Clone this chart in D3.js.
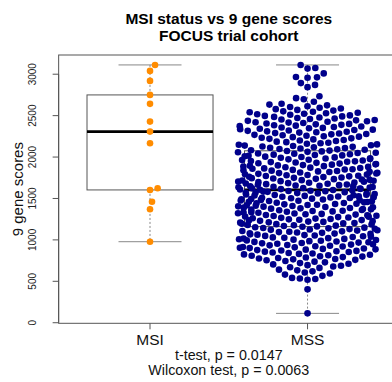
<!DOCTYPE html>
<html>
<head>
<meta charset="utf-8">
<script src="https://cdn.jsdelivr.net/npm/d3@7"></script>
<style>
  body { margin: 0; background: #fff; }
  text { font-family: "Liberation Sans", Arial, sans-serif; }
</style>
</head>
<body>
<script>
// chart size
const width = 392;
const height = 382;

// data
const groups = ['MSI', 'MSS'];
const msiScores = [3112, 3040, 2919, 2750, 2642, 2428, 2307, 2167, 1623, 1603, 1461, 1370, 978];
const mssScores = [
  3112, 3075, 3068, 3010, 2966, 2962, 2957, 2893, 2871, 2844,
  2734, 2711, 2697, 2668,
  2644, 2633, 2624, 2614, 2605, 2596, 2587, 2578, 2569, 2561, 2552,
  2547, 2541, 2535, 2528, 2522, 2516, 2510, 2503, 2497, 2491, 2485, 2478, 2472, 2466, 2460, 2453,
  2448, 2443, 2437, 2432, 2427, 2421, 2416, 2411, 2405, 2400, 2395, 2389, 2384, 2379, 2373, 2368, 2363, 2357, 2352,
  2347, 2342, 2337, 2331, 2326, 2321, 2316, 2310, 2305, 2300, 2295, 2289, 2284, 2279, 2274, 2268, 2263, 2258, 2252,
  2246, 2240, 2233, 2226, 2220, 2213, 2206, 2200, 2193, 2186, 2180, 2173, 2166, 2160, 2153,
  2148, 2143, 2138, 2133, 2128, 2123, 2118, 2113, 2108, 2103, 2098, 2093, 2088, 2083, 2078, 2073, 2068, 2063, 2058, 2052,
  2048, 2043, 2039, 2034, 2029, 2024, 2020, 2015, 2010, 2005, 2001, 1996, 1991, 1986, 1982, 1977, 1972, 1967, 1963, 1958, 1953,
  1948, 1944, 1939, 1935, 1930, 1926, 1921, 1917, 1912, 1908, 1903, 1899, 1894, 1890, 1885, 1881, 1876, 1872, 1867, 1863, 1858, 1853,
  1849, 1845, 1840, 1836, 1832, 1827, 1823, 1819, 1814, 1810, 1806, 1801, 1797, 1793, 1788, 1784, 1780, 1775, 1771, 1767, 1762, 1758, 1753,
  1749, 1745, 1741, 1737, 1733, 1729, 1725, 1721, 1717, 1713, 1709, 1705, 1701, 1697, 1693, 1689, 1685, 1681, 1677, 1673, 1669, 1665, 1661, 1657, 1653,
  1649, 1646, 1642, 1638, 1635, 1631, 1627, 1624, 1620, 1616, 1613, 1609, 1605, 1602, 1598, 1594, 1591, 1587, 1583, 1580, 1576, 1572, 1569, 1565, 1561, 1558, 1553,
  1549, 1546, 1542, 1538, 1535, 1531, 1527, 1524, 1520, 1516, 1513, 1509, 1505, 1502, 1498, 1494, 1491, 1487, 1483, 1480, 1476, 1472, 1469, 1465, 1461, 1458, 1453,
  1449, 1445, 1441, 1437, 1433, 1429, 1425, 1421, 1417, 1413, 1409, 1405, 1401, 1397, 1393, 1389, 1385, 1381, 1377, 1373, 1369, 1365, 1361, 1357, 1352,
  1348, 1344, 1340, 1335, 1331, 1327, 1322, 1318, 1314, 1309, 1305, 1301, 1296, 1292, 1288, 1283, 1279, 1275, 1270, 1266, 1262, 1257, 1253,
  1248, 1244, 1239, 1235, 1230, 1226, 1221, 1217, 1212, 1208, 1203, 1199, 1194, 1190, 1185, 1181, 1176, 1172, 1167, 1163, 1158, 1153,
  1148, 1144, 1139, 1135, 1130, 1126, 1121, 1117, 1112, 1108, 1103, 1099, 1094, 1090, 1085, 1081, 1076, 1072, 1067, 1063, 1058, 1053,
  1048, 1044, 1039, 1035, 1030, 1026, 1021, 1017, 1012, 1008, 1003, 999, 994, 990, 985, 981, 976, 972, 967, 963, 958, 953,
  948, 943, 939, 934, 929, 924, 920, 915, 910, 905, 901, 896, 891, 886, 882, 877, 872, 867, 863, 858, 853,
  847, 842, 836, 831, 825, 820, 814, 809, 803, 798, 792, 787, 781, 776, 770, 765, 759, 754,
  745, 737, 729, 720, 712, 704, 695, 687, 679, 670, 662,
  641, 632, 620, 607, 594, 581, 566,
  541, 534, 527, 519,
  403,
  113
];
const yTicks = [0, 500, 1000, 1500, 2000, 2500, 3000];
const titleLines = ['MSI status vs 9 gene scores', 'FOCUS trial cohort'];
const testLines = ['t-test, p = 0.0147', 'Wilcoxon test, p = 0.0063'];
const pointColors = ['#ff8c00', '#00008b'];

const svg = d3.select('body')
  .append('svg')
  .attr('width', width)
  .attr('height', height);

// plot region (right side runs past the picture edge, as in the original)
const plot = {left: 58.65, right: 398.9, top: 55, bottom: 323.3};

const allScores = msiScores.concat(mssScores);
const lo = d3.min(allScores), hi = d3.max(allScores);
const pad = (hi - lo) * 0.04;

const xScale = d3.scaleLinear()
  .domain([0.42, 2.58])
  .range([plot.left, plot.right]);
const yScale = d3.scaleLinear()
  .domain([lo - pad, hi + pad])
  .range([plot.bottom, plot.top]);

// R style five number summary
function fivenum(a) {
  const x = a.slice().sort((p, q) => p - q), n = x.length;
  const n4 = Math.floor((n + 3) / 2) / 2;
  return [1, n4, (n + 1) / 2, n + 1 - n4, n]
    .map(k => 0.5 * (x[Math.floor(k) - 1] + x[Math.ceil(k) - 1]));
}
function boxStats(a) {
  const f = fivenum(a);
  const iqr = f[3] - f[1];
  const inside = a.filter(v => v >= f[1] - 1.5 * iqr && v <= f[3] + 1.5 * iqr);
  return {lo: d3.min(inside), q1: f[1], med: f[2], q3: f[3], hi: d3.max(inside)};
}

// beeswarm "swarm" layout in pixels, ascending priority, wrapped corral
const dotGap = 7.8;
const corral = 70;
function swarm(values) {
  const pts = values.map(v => ({v: v, y: yScale(v), dx: 0})).sort((a, b) => a.v - b.v);
  const placed = [];
  pts.forEach(p => {
    const near = placed.filter(q => Math.abs(q.y - p.y) < dotGap)
      .sort((a, b) => Math.abs(a.dx) - Math.abs(b.dx));
    let best = 0;
    if (near.length) {
      const offs = near.map(q => Math.sqrt(dotGap * dotGap - (q.y - p.y) ** 2));
      const cands = [0].concat(near.map((q, i) => q.dx + offs[i]), near.map((q, i) => q.dx - offs[i]));
      best = Infinity;
      cands.forEach(c => {
        if (Math.abs(c) >= Math.abs(best)) return;
        const bad = near.some(q => (q.dx - c) ** 2 + (q.y - p.y) ** 2 < dotGap * dotGap * 0.999);
        if (!bad) best = c;
      });
    }
    p.dx = best;
    placed.push(p);
  });
  pts.forEach(p => {
    const w = 2 * corral;
    p.dx = ((((p.dx + corral) % w) + w) % w) - corral;
  });
  return pts;
}

const series = [msiScores, mssScores];

// frame
svg.append('rect')
  .attr('x', plot.left).attr('y', plot.top)
  .attr('width', plot.right - plot.left).attr('height', plot.bottom - plot.top)
  .attr('fill', 'none').attr('stroke', '#555').attr('stroke-width', 1);

// boxplots
const boxW = 0.4;
series.forEach((vals, i) => {
  const s = boxStats(vals);
  const g = svg.append('g').classed('box', true);
  const cx = i + 1;
  g.append('line')
    .attr('x1', xScale(cx)).attr('x2', xScale(cx))
    .attr('y1', yScale(s.q3)).attr('y2', yScale(s.hi))
    .attr('stroke', '#888').attr('stroke-dasharray', '2,2');
  g.append('line')
    .attr('x1', xScale(cx)).attr('x2', xScale(cx))
    .attr('y1', yScale(s.q1)).attr('y2', yScale(s.lo))
    .attr('stroke', '#888').attr('stroke-dasharray', '2,2');
  [s.lo, s.hi].forEach(v => {
    g.append('line')
      .attr('x1', xScale(cx - boxW / 2)).attr('x2', xScale(cx + boxW / 2))
      .attr('y1', yScale(v)).attr('y2', yScale(v))
      .attr('stroke', '#888');
  });
  g.append('rect')
    .attr('x', xScale(cx - boxW)).attr('width', xScale(cx + boxW) - xScale(cx - boxW))
    .attr('y', yScale(s.q3)).attr('height', yScale(s.q1) - yScale(s.q3))
    .attr('fill', '#fff').attr('stroke', '#555');
  g.append('line')
    .attr('x1', xScale(cx - boxW)).attr('x2', xScale(cx + boxW))
    .attr('y1', yScale(s.med)).attr('y2', yScale(s.med))
    .attr('stroke', '#000').attr('stroke-width', 2.6);
});

// points
series.forEach((vals, i) => {
  svg.append('g')
    .selectAll('circle')
    .data(swarm(vals))
    .enter()
    .append('circle')
    .attr('cx', d => xScale(i + 1) + d.dx)
    .attr('cy', d => d.y)
    .attr('r', 3.3)
    .attr('fill', pointColors[i]);
});

// y axis
const yAxis = svg.append('g').classed('y axis', true);
yAxis.append('line')
  .attr('x1', plot.left).attr('x2', plot.left)
  .attr('y1', yScale(yTicks[0])).attr('y2', yScale(yTicks[yTicks.length - 1]))
  .attr('stroke', '#555');
yTicks.forEach(t => {
  yAxis.append('line')
    .attr('x1', plot.left - 6).attr('x2', plot.left)
    .attr('y1', yScale(t)).attr('y2', yScale(t))
    .attr('stroke', '#555');
  yAxis.append('text')
    .attr('transform', `translate(36,${yScale(t)}) rotate(-90)`)
    .attr('text-anchor', 'middle')
    .attr('font-size', 10)
    .attr('fill', '#222')
    .text(t);
});

// x axis ticks and labels
groups.forEach((name, i) => {
  svg.append('line')
    .attr('x1', xScale(i + 1)).attr('x2', xScale(i + 1))
    .attr('y1', plot.bottom).attr('y2', plot.bottom + 6)
    .attr('stroke', '#555');
  svg.append('text')
    .attr('x', xScale(i + 1)).attr('y', 345)
    .attr('text-anchor', 'middle')
    .attr('font-size', 15.5)
    .attr('fill', '#111')
    .text(name);
});

// axis title
svg.append('text')
  .attr('transform', `translate(23,${(plot.top + plot.bottom) / 2}) rotate(-90)`)
  .attr('text-anchor', 'middle')
  .attr('font-size', 15)
  .attr('fill', '#111')
  .text('9 gene scores');

// titles
const mid = (plot.left + plot.right) / 2;
titleLines.forEach((t, i) => {
  svg.append('text')
    .attr('x', mid).attr('y', 24 + i * 16.8)
    .attr('text-anchor', 'middle')
    .attr('font-size', 15.5)
    .attr('font-weight', 'bold')
    .attr('fill', '#000')
    .text(t);
});
testLines.forEach((t, i) => {
  svg.append('text')
    .attr('x', mid).attr('y', 360 + i * 15)
    .attr('text-anchor', 'middle')
    .attr('font-size', 14.3)
    .attr('fill', '#111')
    .text(t);
});
</script>
</body>
</html>
